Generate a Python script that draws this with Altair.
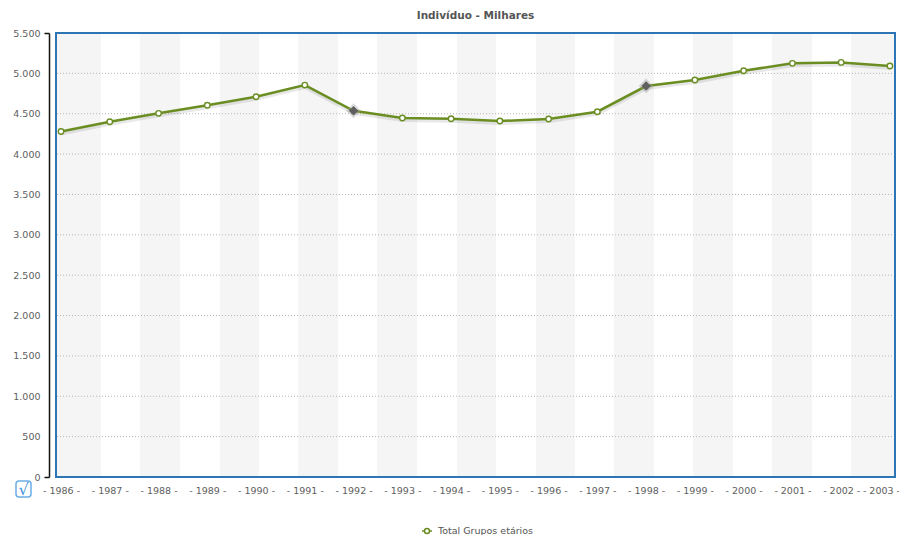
import altair as alt
import pandas as pd

# ---- data ----
years = list(range(1986, 2004))
values = [4280, 4400, 4505, 4605, 4710, 4855, 4537, 4447, 4438, 4410,
          4434, 4525, 4843, 4917, 5033, 5124, 5136, 5091]
highlighted_years = [1992, 1998]
series_name = "Total Grupos etários"

band_starts = [1985.897, 1987.620, 1989.261, 1990.861, 1992.481, 1994.121,
               1995.742, 1997.341, 1998.961, 2000.582, 2002.202]
band_ends = [1986.820, 1988.441, 1990.061, 1991.681, 1993.301, 1994.921,
             1996.541, 1998.162, 1999.782, 2001.402, 2003.104]
grid_values = [500, 1000, 1500, 2000, 2500, 3000, 3500, 4000, 4500, 5000]
y_ticks = [0, 500, 1000, 1500, 2000, 2500, 3000, 3500, 4000, 4500, 5000, 5500]

df = pd.DataFrame({"year": years, "value": values})
df["series"] = series_name
df["hl"] = df["year"].isin(highlighted_years)
bands = pd.DataFrame({"b0": band_starts, "b1": band_ends})
grid = pd.DataFrame({"g": grid_values})

FONT = "DejaVu Sans"
OLIVE = "#6b8e23"
BLUE = "#2e75b6"
W, H = 839, 444

xscale = alt.Scale(domain=[1985.897, 2003.104], nice=False, zero=False)
yscale = alt.Scale(domain=[0, 5500], nice=False, zero=True)

x_axis = alt.Axis(values=years, labelExpr="'- ' + datum.value + ' -'",
                  grid=False, domain=False, ticks=False, labelPadding=8,
                  labelFont=FONT, labelFontSize=9.5, labelColor="#5e5e5e",
                  labelFlush=False, labelOverlap=False, title=None,
                  labelOffset={"condition": {"test": "datum.value == 2003", "value": -9}, "value": 0})
y_axis = alt.Axis(values=y_ticks,
                  labelExpr="replace(format(datum.value, ','), ',', '.')",
                  grid=False, offset=7, domain=True, domainColor="#111",
                  domainWidth=1.5, ticks=True, tickSize=5, tickColor="#111",
                  tickWidth=1.5,
                  tickOpacity={"condition": {"test": "datum.value == 0 || datum.value == 5500", "value": 1}, "value": 0},
                  labelPadding=4, labelFont=FONT, labelFontSize=9.5,
                  labelColor="#5e5e5e", labelOverlap=False, title=None)


def X(field):
    return alt.X(field, scale=xscale, axis=x_axis, title=None)


def Y(field):
    return alt.Y(field, scale=yscale, axis=y_axis, title=None)


band_layer = alt.Chart(bands).mark_rect(color="#f5f5f5").encode(
    x=X("b0:Q"),
    x2="b1:Q",
    y=alt.value(0),
    y2=alt.value(H),
)

grid_layer = alt.Chart(grid).mark_rule(color="#b5b5b5", strokeDash=[1, 2],
                                       strokeWidth=1).encode(
    y=Y("g:Q"),
)

frame = alt.Chart(df.head(1)).mark_rect(
    filled=False, stroke=BLUE, strokeWidth=2, fillOpacity=0).encode(
    x=alt.value(0), x2=alt.value(W), y=alt.value(0), y2=alt.value(H))

shadow = alt.Chart(df).mark_line(color="#000", opacity=0.09, strokeWidth=4,
                                 yOffset=2).encode(
    x=X("year:Q"),
    y=Y("value:Q"),
)

line = alt.Chart(df).mark_line(strokeWidth=2.5).encode(
    x=X("year:Q"),
    y=Y("value:Q"),
    color=alt.Color("series:N", scale=alt.Scale(range=[OLIVE]),
                    legend=alt.Legend(
                        orient="none", legendX=365, legendY=492, title=None,
                        symbolType="M-1,0L-0.5,0M0.5,0L1,0M-0.5,0A0.5,0.5,0,1,1,0.5,0A0.5,0.5,0,1,1,-0.5,0",
                        symbolSize=100, symbolStrokeWidth=1.5,
                        symbolStrokeColor=OLIVE, symbolFillColor="white",
                        labelFont=FONT, labelFontSize=9.5, labelColor="#555",
                        labelOffset=5)),
)

circles = alt.Chart(df).transform_filter("!datum.hl").mark_point(
    shape="circle", filled=True, fill="white", stroke=OLIVE, strokeWidth=1.4,
    size=30, opacity=1).encode(
    x=X("year:Q"),
    y=Y("value:Q"),
)

halo = alt.Chart(df).transform_filter("datum.hl").mark_point(
    shape="diamond", filled=True, color="#999", opacity=0.35, size=220).encode(
    x=X("year:Q"),
    y=Y("value:Q"),
)

diamonds = alt.Chart(df).transform_filter("datum.hl").mark_point(
    shape="diamond", filled=True, color="#5f5f5f", opacity=1, size=90).encode(
    x=X("year:Q"),
    y=Y("value:Q"),
)

checkbox = alt.Chart(df.head(1)).mark_rect(
    fill="white", stroke="#6aaee8", strokeWidth=1.5, cornerRadius=3).encode(
    x=alt.value(-40), x2=alt.value(-25), y=alt.value(448), y2=alt.value(464))
checkmark = alt.Chart(df.head(1)).mark_text(
    text="√", font=FONT, fontSize=16, color="#3d8fdc").encode(
    x=alt.value(-32.5), y=alt.value(456.5))

chart = alt.layer(band_layer, grid_layer, frame, shadow, line, halo, diamonds,
                  circles, checkbox, checkmark).properties(
    width=W, height=H,
    title=alt.TitleParams("Indivíduo - Milhares", font=FONT, fontSize=10.5,
                          fontWeight="bold", color="#555", offset=7,
                          anchor="middle"),
    autosize=alt.AutoSizeParams(type="none"),
    padding={"left": 48, "top": 25, "right": 4, "bottom": 58},
).configure_view(stroke=None)

chart.save("out.html", embed_options={"renderer": "svg", "actions": False})
